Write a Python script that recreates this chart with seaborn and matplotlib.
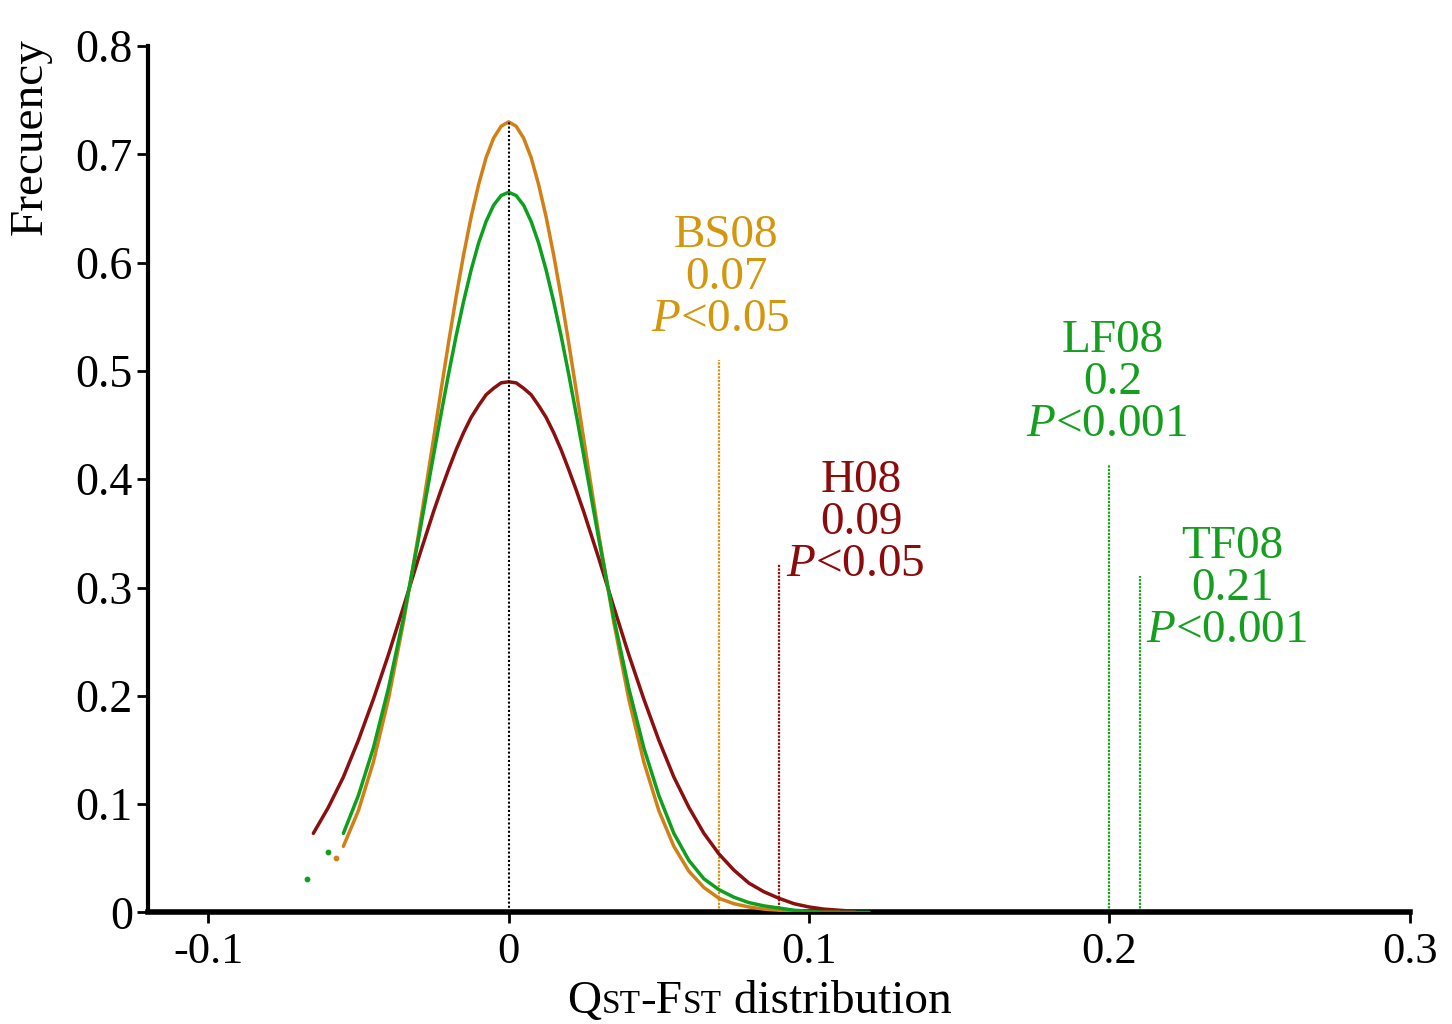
import numpy as np
import pandas as pd
import seaborn as sns
import matplotlib.pyplot as plt
from matplotlib.offsetbox import TextArea, HPacker, AnnotationBbox

sns.set_style("ticks")
plt.rcParams['font.family'] = ['Liberation Serif', 'DejaVu Serif']
plt.rcParams['mathtext.fontset'] = 'custom'
plt.rcParams['mathtext.rm'] = 'Liberation Serif'
plt.rcParams['mathtext.it'] = 'Liberation Serif:italic'
plt.rcParams['axes.edgecolor'] = 'black'
plt.rcParams['xtick.color'] = 'black'
plt.rcParams['ytick.color'] = 'black'
plt.rcParams['text.color'] = 'black'

# ------------------------ Data ------------------------
# right half of each curve (x >= 0), the left half mirrors it up to where it stops
x_right = [0.0, 0.0025, 0.005, 0.0075, 0.01, 0.0125, 0.015, 0.0175, 0.02, 0.0225,
           0.025, 0.03, 0.035, 0.04, 0.045,
           0.05, 0.055, 0.06, 0.065, 0.07, 0.075, 0.08, 0.085, 0.09, 0.095,
           0.1, 0.105, 0.11, 0.115, 0.12]
bs08_right = [0.73, 0.726, 0.715, 0.697, 0.672, 0.642, 0.607, 0.568, 0.526, 0.482,
              0.437, 0.349, 0.268, 0.197, 0.139,
              0.094, 0.061, 0.038, 0.023, 0.013, 0.008, 0.005, 0.003, 0.002, 0.001,
              0.0, 0.0, 0.0, None, None]
lf08_right = [0.665, 0.662, 0.653, 0.638, 0.618, 0.593, 0.564, 0.532, 0.497, 0.46,
              0.422, 0.345, 0.272, 0.207, 0.152,
              0.108, 0.073, 0.048, 0.031, 0.021, 0.014, 0.009, 0.006, 0.004, 0.002,
              0.001, 0.0, 0.0, 0.0, 0.0]
h08_right = [0.49, 0.489, 0.484, 0.478, 0.468, 0.457, 0.443, 0.427, 0.409, 0.39,
             0.37, 0.327, 0.282, 0.238, 0.197,
             0.159, 0.125, 0.097, 0.073, 0.054, 0.039, 0.027, 0.019, 0.013, 0.008,
             0.005, 0.003, 0.002, 0.001, None]
# how far left each curve is drawn
left_stop = {"BS08": -0.055, "LF08": -0.055, "H08": -0.065}
# loose points at the far left tail
tail_dots = {"LF08": ([-0.060, -0.067], [0.056, 0.031]),
             "BS08": ([-0.0575], [0.05])}

# observed values
obs_names = ["BS08", "H08", "LF08", "TF08"]
obs_x = [0.07, 0.09, 0.2, 0.21]
obs_top = [0.51, 0.322, 0.414, 0.311]
obs_p = ["0.05", "0.05", "0.001", "0.001"]
obs_value = ["0.07", "0.09", "0.2", "0.21"]
label_x = [0.0725, 0.1175, 0.201, 0.241]
label_y = [0.625, 0.399, 0.528, 0.338]

curve_colors = {"BS08": "#D27F16", "LF08": "#0CA01E", "H08": "#8C0F0F"}
text_colors = ["#D4960A", "#8C0A0A", "#14A01E", "#14A01E"]
line_colors = ["#D4960A", "#8C0F0F", "#14A01E", "#14A01E"]


def full_curve(xr, yr, stop):
    rows = []
    for x, y in zip(xr, yr):
        if y is None:
            continue
        rows.append((x, y))
        if x > 0 and -x >= stop - 1e-9:
            rows.append((-x, y))
    df = pd.DataFrame(rows, columns=["x", "y"]).sort_values("x")
    return df


fig = plt.figure(figsize=(14.52, 10.24), dpi=100)
ax = fig.add_axes([0.102, 0.109, 0.869, 0.846])

curves = {"H08": h08_right, "LF08": lf08_right, "BS08": bs08_right}
for name in ["H08", "BS08", "LF08"]:
    df = full_curve(x_right, curves[name], left_stop[name])
    sns.lineplot(data=df, x="x", y="y", color=curve_colors[name], lw=2.5,
                 ax=ax, sort=False, estimator=None, zorder=3,
                 solid_joinstyle="round", solid_capstyle="round")
    if name in tail_dots:
        tx, ty = tail_dots[name]
        ax.scatter(tx, ty, s=10, color=curve_colors[name], zorder=3)

# line through the mean
ax.plot([0, 0], [0, 0.73], color="black", ls=(0, (1, 1)), lw=1.5, zorder=4)

for i, name in enumerate(obs_names):
    ax.plot([obs_x[i], obs_x[i]], [0, obs_top[i]], color=line_colors[i],
            ls=(0, (1, 0.6)), lw=1.6, zorder=2)
    lines = [name, obs_value[i], r"$\mathit{P}$<" + obs_p[i]]
    for k, t in enumerate(lines):
        ax.text(label_x[i] - (0.002 if k == 2 else 0), label_y[i] - k * 0.039, t,
                color=text_colors[i], fontsize=34, ha="center", va="center")

ax.set_xlim(-0.12, 0.3)
ax.set_ylim(0, 0.8)
ax.set_xticks([-0.1, 0, 0.1, 0.2, 0.3])
ax.set_xticklabels(["-0.1", "0", "0.1", "0.2", "0.3"])
ax.set_yticks([0, 0.1, 0.2, 0.3, 0.4, 0.5, 0.6, 0.7, 0.8])
ax.set_yticklabels(["0", "0.1", "0.2", "0.3", "0.4", "0.5", "0.6", "0.7", "0.8"])
ax.tick_params(axis="x", labelsize=32, length=8, width=2, pad=6, direction="out")
ax.tick_params(axis="y", labelsize=33, length=8, width=2, pad=3, direction="out")
ax.set_xlabel("")
ax.set_ylabel("")
sns.despine(ax=ax)
ax.spines["left"].set_linewidth(3)
ax.spines["bottom"].set_linewidth(4)

fig.text(0.021, 0.867, "Frecuency", rotation=90, fontsize=34,
         ha="center", va="center")

# x label with small-caps style subscripts on the baseline
big, small = 34, 24
parts = [TextArea("Q", textprops=dict(size=big)),
         TextArea("ST", textprops=dict(size=small)),
         TextArea("-F", textprops=dict(size=big)),
         TextArea("ST", textprops=dict(size=small)),
         TextArea(" distribution", textprops=dict(size=big))]
pack = HPacker(children=parts, align="baseline", pad=0, sep=0)
ab = AnnotationBbox(pack, (0.523, 0.022), xycoords="figure fraction",
                    frameon=False, box_alignment=(0.5, 0.5))
fig.add_artist(ab)

fig.savefig("out.png", dpi=100)
